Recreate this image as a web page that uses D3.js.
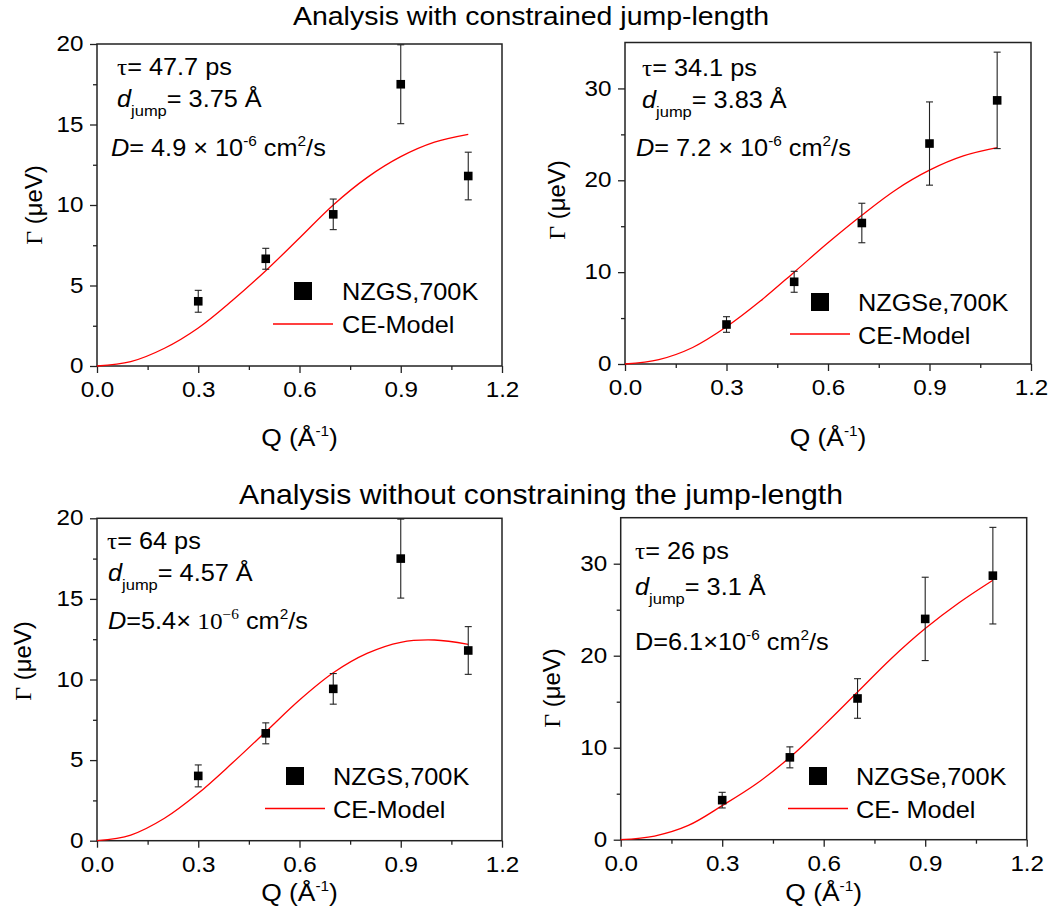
<!DOCTYPE html>
<html><head><meta charset="utf-8">
<script src="https://cdn.jsdelivr.net/npm/d3@7"></script>
<style>
body{margin:0;background:#fff;}
svg{display:block;}
text{fill:#000;font-family:"Liberation Sans",Arial,sans-serif;}
</style>
</head><body>
<svg id="c" width="1059" height="924"></svg>
<script>
// ---------- data ----------
const qVals = [0.3, 0.5, 0.7, 0.9, 1.1];
const gammaNZGS = [4.02, 6.66, 9.42, 17.5, 11.8];
const errNZGS = [0.68, 0.65, 0.95, 2.45, 1.48];
const gammaNZGSe = [4.3, 8.95, 15.35, 24.0, 28.7];
const errNZGSe = [0.85, 1.14, 2.15, 4.53, 5.25];

const qModel = [0, 0.1, 0.2, 0.3, 0.4, 0.5, 0.6, 0.7, 0.8, 0.9, 1.0, 1.1];
const ceConstrNZGS  = [0, 0.27, 1.1, 2.36, 4.05, 5.92, 7.95, 10.0, 11.7, 13.0, 13.9, 14.39];
const ceConstrNZGSe = [0, 0.48, 1.8, 4.05, 6.85, 10.0, 13.2, 16.2, 18.95, 21.1, 22.65, 23.55];
const ceFreeNZGS    = [0, 0.35, 1.39, 2.94, 4.8, 6.76, 8.73, 10.42, 11.62, 12.31, 12.45, 12.18];
const ceFreeNZGSe   = [0, 0.4, 1.55, 3.7, 6.05, 8.95, 12.4, 16.05, 19.7, 22.95, 25.75, 28.2];

const xTicks = [0, 0.3, 0.6, 0.9, 1.2];
const xMinor = [0.15, 0.45, 0.75, 1.05];
const yTicks20 = [0, 5, 10, 15, 20];
const yMinor20 = [2.5, 7.5, 12.5, 17.5];
const yTicks35 = [0, 10, 20, 30];
const yMinor35 = [5, 15, 25];

const titles = ["Analysis with constrained jump-length", "Analysis without constraining the jump-length"];
const seriesNames = ["NZGS,700K", "NZGSe,700K"];
const modelNames = ["CE-Model", "CE- Model"];

// ---------- layout ----------
const SX = 1.1;           // horizontal glyph stretch of the original
const svg = d3.select("#c");
const FRAME = "#222";

const panels = [
  {l:97,  r:502,  t:44,    b:366,   ymax:20, yt:yTicks20, ym:yMinor20, g:gammaNZGS,  e:errNZGS,  ce:ceConstrNZGS,
   ylab:[42,205], xlabY:446, leg:{mx:303, my:291, tx:342, ty:299.5, lx1:273, lx2:333, ly:324, ty2:333, name:seriesNames[0], model:modelNames[0]},
   ann:[
     {x:117, y:74.5, segs:[{t:"τ",serif:1},{t:"= 47.7 ps"}]},
     {x:117, y:107, segs:[{t:"d",it:1},{t:"jump",sz:15,dy:9},{t:"= 3.75 Å",dy:-9}]},
     {x:111, y:155.5, segs:[{t:"D",it:1},{t:"= 4.9 × 10"},{t:"-6",sz:14,dy:-10},{t:" cm",dy:10},{t:"2",sz:14,dy:-10},{t:"/s",dy:10}]}
   ]},
  {l:625, r:1031, t:42.5,  b:364,   ymax:35, yt:yTicks35, ym:yMinor35, g:gammaNZGSe, e:errNZGSe, ce:ceConstrNZGSe,
   ylab:[565,200], xlabY:446, leg:{mx:820, my:302, tx:858, ty:311, lx1:790, lx2:850, ly:334, ty2:343.5, name:seriesNames[1], model:modelNames[0]},
   ann:[
     {x:642, y:75.5, segs:[{t:"τ",serif:1},{t:"= 34.1 ps"}]},
     {x:642, y:107.5, segs:[{t:"d",it:1},{t:"jump",sz:15,dy:9},{t:"= 3.83 Å",dy:-9}]},
     {x:636, y:155.5, segs:[{t:"D",it:1},{t:"= 7.2 × 10"},{t:"-6",sz:14,dy:-10},{t:" cm",dy:10},{t:"2",sz:14,dy:-10},{t:"/s",dy:10}]}
   ]},
  {l:97,  r:502,  t:518.3, b:840.7, ymax:20, yt:yTicks20, ym:yMinor20, g:gammaNZGS,  e:errNZGS,  ce:ceFreeNZGS,
   ylab:[31,661], xlabY:901, leg:{mx:295, my:776, tx:333, ty:784.5, lx1:265, lx2:325, ly:808.5, ty2:817.5, name:seriesNames[0], model:modelNames[0]},
   ann:[
     {x:107, y:548.5, segs:[{t:"τ",serif:1},{t:"= 64 ps"}]},
     {x:108, y:581, segs:[{t:"d",it:1},{t:"jump",sz:15,dy:9},{t:"= 4.57 Å",dy:-9}]},
     {x:108, y:629, segs:[{t:"D",it:1},{t:"=5.4×"},{t:" 10",serif:1},{t:"−6",serif:1,sz:14,dy:-10},{t:" cm",dy:10},{t:"2",sz:14,dy:-10},{t:"/s",dy:10}]}
   ]},
  {l:620.7, r:1026.7, t:517.7, b:839.7, ymax:35, yt:yTicks35, ym:yMinor35, g:gammaNZGSe, e:errNZGSe, ce:ceFreeNZGSe,
   ylab:[560,688], xlabY:901, leg:{mx:818, my:776, tx:856, ty:784.5, lx1:788, lx2:848, ly:808.5, ty2:817.5, name:seriesNames[1], model:modelNames[1]},
   ann:[
     {x:635, y:558.5, segs:[{t:"τ",serif:1},{t:"= 26 ps"}]},
     {x:635, y:594.5, segs:[{t:"d",it:1},{t:"jump",sz:15,dy:9},{t:"= 3.1 Å",dy:-9}]},
     {x:635, y:649.5, segs:[{t:"D=6.1×10"},{t:"-6",sz:14,dy:-10},{t:" cm",dy:10},{t:"2",sz:14,dy:-10},{t:"/s",dy:10}]}
   ]}
];

function sText(parent, x, y, anchor, size) {
  return parent.append("text")
    .attr("transform", `translate(${x},${y}) scale(${SX},1)`)
    .attr("text-anchor", anchor)
    .style("font-size", size + "px");
}

// titles (widths forced to the original's)
svg.append("text").attr("x", 293).attr("y", 24.5).style("font-size", "26px")
  .attr("textLength", 476).attr("lengthAdjust", "spacingAndGlyphs").text(titles[0]);
svg.append("text").attr("x", 239).attr("y", 504).style("font-size", "28px")
  .attr("textLength", 604).attr("lengthAdjust", "spacingAndGlyphs").text(titles[1]);

panels.forEach(p => {
  const x = d3.scaleLinear().domain([0, 1.2]).range([p.l, p.r]);
  const y = d3.scaleLinear().domain([0, p.ymax]).range([p.b, p.t]);
  const g = svg.append("g");

  // minor ticks
  g.append("g").attr("transform", `translate(0,${p.b})`)
    .call(d3.axisBottom(x).tickValues(xMinor).tickSize(4).tickSizeOuter(0).tickFormat(""));
  g.append("g").attr("transform", `translate(${p.l},0)`)
    .call(d3.axisLeft(y).tickValues(p.ym).tickSize(4).tickSizeOuter(0).tickFormat(""));
  // major ticks
  const xa = g.append("g").attr("transform", `translate(0,${p.b})`)
    .call(d3.axisBottom(x).tickValues(xTicks).tickSize(7).tickSizeOuter(0).tickFormat(d3.format(".1f")));
  xa.selectAll("text").attr("y", 31).attr("dy", 0).attr("transform", `scale(${SX},1)`)
    .attr("x", 0).style("font-size", "22px").style("font-family", '"Liberation Sans",Arial,sans-serif').attr("fill", "#000");
  const ya = g.append("g").attr("transform", `translate(${p.l},0)`)
    .call(d3.axisLeft(y).tickValues(p.yt).tickSize(7).tickSizeOuter(0));
  ya.selectAll("text").attr("x", -13.5 / SX).attr("dy", "0.3em").attr("transform", `scale(${SX},1)`)
    .style("font-size", "22px").style("font-family", '"Liberation Sans",Arial,sans-serif').attr("fill", "#000");
  g.selectAll(".domain").remove();
  g.selectAll(".tick line").attr("stroke", FRAME).attr("stroke-width", 1.3);

  // frame
  g.append("rect").attr("x", p.l).attr("y", p.t).attr("width", p.r - p.l).attr("height", p.b - p.t)
    .attr("fill", "none").attr("stroke", FRAME).attr("stroke-width", 1.5);

  // model curve
  const line = d3.line().x((d, i) => x(qModel[i])).y(d => y(d)).curve(d3.curveCatmullRom);
  g.append("path").datum(p.ce).attr("d", line).attr("fill", "none").attr("stroke", "#ff0000").attr("stroke-width", 1.3);

  // error bars
  const eb = g.append("g").attr("stroke", "#222").attr("stroke-width", 1.1);
  qVals.forEach((q, i) => {
    const cx = x(q), y1 = y(p.g[i] + p.e[i]), y2 = y(p.g[i] - p.e[i]);
    eb.append("line").attr("x1", cx).attr("x2", cx).attr("y1", y1).attr("y2", y2);
    eb.append("line").attr("x1", cx - 3.5).attr("x2", cx + 3.5).attr("y1", y1).attr("y2", y1);
    eb.append("line").attr("x1", cx - 3.5).attr("x2", cx + 3.5).attr("y1", y2).attr("y2", y2);
  });
  // points
  g.selectAll("rect.pt").data(qVals).enter().append("rect").attr("class", "pt")
    .attr("x", d => x(d) - 4.3).attr("y", (d, i) => y(p.g[i]) - 4.3)
    .attr("width", 8.6).attr("height", 8.6).attr("fill", "#000");

  // legend
  const L = p.leg;
  g.append("rect").attr("x", L.mx - 9).attr("y", L.my - 9).attr("width", 18).attr("height", 18).attr("fill", "#000");
  sText(g, L.tx, L.ty, "start", 23).text(L.name);
  g.append("line").attr("x1", L.lx1).attr("x2", L.lx2).attr("y1", L.ly).attr("y2", L.ly)
    .attr("stroke", "#ff0000").attr("stroke-width", 1.3);
  sText(g, L.tx, L.ty2, "start", 23).text(L.model);

  // annotations
  p.ann.forEach(a => {
    const t = sText(g, a.x, a.y, "start", 23);
    a.segs.forEach(s => {
      const ts = t.append("tspan").text(s.t);
      if (s.sz) ts.style("font-size", s.sz + "px");
      if (s.dy) ts.attr("dy", s.dy);
      if (s.it) ts.style("font-style", "italic");
      if (s.serif) ts.style("font-family", '"Liberation Serif","Times New Roman",serif');
    });
  });

  // x label
  const xl = sText(g, (p.l + p.r) / 2, p.xlabY, "middle", 24);
  xl.append("tspan").text("Q (Å");
  xl.append("tspan").text("-1").style("font-size", "14px").attr("dy", -10);
  xl.append("tspan").text(")").attr("dy", 10);

  // y label
  const yl = g.append("text").attr("transform", `translate(${p.ylab[0]},${p.ylab[1]}) rotate(-90)`)
    .attr("text-anchor", "middle").style("font-size", "24px");
  yl.append("tspan").text("Γ").style("font-family", '"Liberation Serif","Times New Roman",serif');
  yl.append("tspan").text(" (μeV)");
});
</script>
</body></html>
